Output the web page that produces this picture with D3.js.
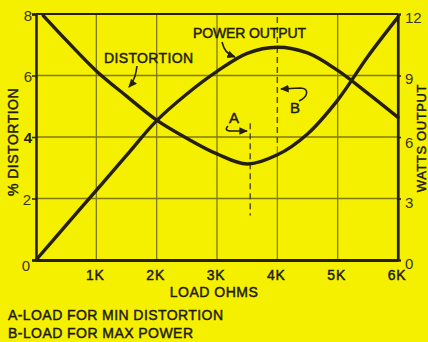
<!DOCTYPE html>
<html>
<head>
<meta charset="utf-8">
<script src="https://cdn.jsdelivr.net/npm/d3@7"></script>
<style>
  html, body { margin: 0; padding: 0; background: #f5f000; }
  svg { display: block; }
  text { font-family: "Liberation Sans", Arial, sans-serif; fill: #1e1a0c; }
  .lab { stroke: #1e1a0c; stroke-width: 0.45px; }
</style>
</head>
<body>
<svg id="chart" width="428" height="342"></svg>
<script>
// Load resistance in kilohms
const distortionLoad = [0.12, 0.5, 1, 1.5, 2, 2.5, 3, 3.5, 4, 4.5, 5, 5.5, 6];
// Percent distortion (left axis)
const distortionPct  = [7.95, 7.15, 6.15, 5.33, 4.55, 3.96, 3.45, 3.12, 3.42, 4.1, 5.2, 6.62, 7.9];
const powerLoad  = [0, 0.5, 1, 1.5, 2, 2.5, 3, 3.5, 4, 4.5, 5, 5.5, 6];
// Watts output (right axis)
const powerWatts = [0, 1.7, 3.4, 5.1, 6.8, 8.1, 9.2, 10.08, 10.38, 10.1, 9.25, 8.13, 6.96];

const xTickValues = [1, 2, 3, 4, 5, 6];
const xTickLabels = ["1K", "2K", "3K", "4K", "5K", "6K"];
const leftTickValues  = [0, 2, 4, 6, 8];
const rightTickValues = [0, 3, 6, 9, 12];

const loadMinDistortion = 3.55;  // A
const loadMaxPower = 4.0;        // B

const svg = d3.select("#chart");
const W = 428, H = 342;
svg.append("rect").attr("width", W).attr("height", H).attr("fill", "#f5f000");

const plot = { left: 36, right: 398, top: 14, bottom: 260 };
const x = d3.scaleLinear().domain([0, 6]).range([plot.left, plot.right]);
const yL = d3.scaleLinear().domain([0, 8]).range([plot.bottom, plot.top]);
const yR = d3.scaleLinear().domain([0, 12]).range([plot.bottom, plot.top]);

const ink = "#261f0e";
const gridInk = "#7f7a16";

// arrowhead marker
const defs = svg.append("defs");
defs.append("marker")
  .attr("id", "head").attr("viewBox", "0 0 10 10")
  .attr("refX", 8).attr("refY", 5)
  .attr("markerWidth", 6).attr("markerHeight", 6)
  .attr("orient", "auto")
  .append("path").attr("d", "M0,1 L9,5 L0,9 Z").attr("fill", ink);

// grid
const grid = svg.append("g");
[1, 2, 3, 5].forEach(v => {
  grid.append("line")
    .attr("x1", x(v)).attr("x2", x(v))
    .attr("y1", yL(0)).attr("y2", yL(8))
    .attr("stroke", gridInk).attr("stroke-width", 1.3);
});
// 4K grid line: solid low part, B marker dashed above
grid.append("line")
  .attr("x1", x(loadMaxPower)).attr("x2", x(loadMaxPower))
  .attr("y1", yL(0)).attr("y2", yL(3.7))
  .attr("stroke", gridInk).attr("stroke-width", 1.2);
[2, 4, 6].forEach(v => {
  grid.append("line")
    .attr("x1", x(0)).attr("x2", x(6))
    .attr("y1", yL(v)).attr("y2", yL(v))
    .attr("stroke", gridInk).attr("stroke-width", 1.3);
});

// marker lines A and B
svg.append("line")
  .attr("x1", x(loadMaxPower)).attr("x2", x(loadMaxPower))
  .attr("y1", yL(7.9)).attr("y2", yL(3.7))
  .attr("stroke", "#4a4410").attr("stroke-width", 1.4)
  .attr("stroke-dasharray", "6,4");
svg.append("line")
  .attr("x1", x(loadMinDistortion)).attr("x2", x(loadMinDistortion))
  .attr("y1", yL(4.45)).attr("y2", yL(1.45))
  .attr("stroke", "#4a4410").attr("stroke-width", 1.4)
  .attr("stroke-dasharray", "6,4");

// frame
svg.append("line").attr("x1", x(0)).attr("x2", x(6)).attr("y1", yL(8)).attr("y2", yL(8))
  .attr("stroke", ink).attr("stroke-width", 2);
svg.append("line").attr("x1", x(6)).attr("x2", x(6)).attr("y1", yL(8)).attr("y2", yL(0))
  .attr("stroke", ink).attr("stroke-width", 2.2);

// axes
const leftAxis = d3.axisLeft(yL).tickValues(leftTickValues).tickSize(4).tickFormat("");
const gl = svg.append("g").attr("transform", `translate(${plot.left},0)`).call(leftAxis);
gl.select(".domain").attr("stroke", ink).attr("stroke-width", 2.5);
gl.selectAll(".tick line").attr("stroke", ink).attr("stroke-width", 1.5);

const rightAxis = d3.axisRight(yR).tickValues(rightTickValues).tickSize(3).tickFormat("");
const gr = svg.append("g").attr("transform", `translate(${plot.right},0)`).call(rightAxis);
gr.select(".domain").attr("stroke", ink).attr("stroke-width", 2.2);
gr.selectAll(".tick line").attr("stroke", ink).attr("stroke-width", 1.5);

const bottomAxis = d3.axisBottom(x).tickValues(xTickValues).tickSize(0).tickFormat("");
const gb = svg.append("g").attr("transform", `translate(0,${plot.bottom})`).call(bottomAxis);
gb.select(".domain").attr("stroke", ink).attr("stroke-width", 3);

// tick labels
const leftOffsets = { 0: [-2, 5], 2: [-1, 1], 4: [0, 0], 6: [0, 1], 8: [0, 1] };
leftTickValues.forEach(v => {
  svg.append("text")
    .attr("x", plot.left - 4 + leftOffsets[v][0])
    .attr("y", yL(v) + leftOffsets[v][1])
    .attr("text-anchor", "end").attr("dominant-baseline", "central")
    .attr("font-size", 15)
    .attr("font-weight", v === 4 ? "bold" : "normal")
    .style("fill", v === 4 ? "#1e1a0c" : "#3a3622")
    .text(v);
});
const rightOffsets = { 0: 3, 3: 4, 6: 5, 9: 3, 12: 3 };
rightTickValues.forEach(v => {
  svg.append("text")
    .attr("x", plot.right + 7)
    .attr("y", yR(v) + rightOffsets[v])
    .attr("dominant-baseline", "central")
    .attr("font-size", 15)
    .style("fill", "#3a3622")
    .text(v);
});
xTickValues.forEach((v, i) => {
  svg.append("text").attr("class", "lab")
    .attr("x", x(v) - 1).attr("y", 280)
    .attr("text-anchor", "middle")
    .attr("font-size", 14)
    .attr("letter-spacing", 0.8)
    .text(xTickLabels[i]);
});

// axis titles
svg.append("text").attr("class", "lab")
  .attr("transform", "translate(18,142) rotate(-90)")
  .attr("text-anchor", "middle").attr("font-size", 14)
  .attr("letter-spacing", 0.5)
  .text("% DISTORTION");
svg.append("text").attr("class", "lab")
  .attr("transform", "translate(426,138) rotate(-90)")
  .attr("text-anchor", "middle").attr("font-size", 13)
  .attr("letter-spacing", 0.6)
  .text("WATTS OUTPUT");
svg.append("text").attr("class", "lab")
  .attr("x", 214).attr("y", 297)
  .attr("text-anchor", "middle").attr("font-size", 14)
  .attr("letter-spacing", 0.5)
  .text("LOAD OHMS");

// notes
svg.append("text").attr("class", "lab").attr("x", 8).attr("y", 320)
  .attr("font-size", 14)
  .attr("textLength", 215).attr("lengthAdjust", "spacing")
  .text("A-LOAD FOR MIN DISTORTION");
svg.append("text").attr("class", "lab").attr("x", 8).attr("y", 338)
  .attr("font-size", 14)
  .attr("textLength", 185).attr("lengthAdjust", "spacing")
  .text("B-LOAD FOR MAX POWER");

// curves
const distLine = d3.line()
  .x((d, i) => x(distortionLoad[i]))
  .y(d => yL(d))
  .curve(d3.curveCatmullRom.alpha(0.5));
const powerLine = d3.line()
  .x((d, i) => x(powerLoad[i]))
  .y(d => yR(d))
  .curve(d3.curveCatmullRom.alpha(0.5));

svg.append("path").datum(distortionPct).attr("d", distLine)
  .attr("fill", "none").attr("stroke", ink).attr("stroke-width", 3.4)
  .attr("stroke-linecap", "round");
svg.append("path").datum(powerWatts).attr("d", powerLine)
  .attr("fill", "none").attr("stroke", ink).attr("stroke-width", 3.4)
  .attr("stroke-linecap", "round");

// curve labels and leaders
svg.append("text").attr("class", "lab").attr("x", 104).attr("y", 63)
  .attr("font-size", 14)
  .attr("textLength", 89).attr("lengthAdjust", "spacing")
  .text("DISTORTION");
svg.append("path")
  .attr("d", "M137,66 C136,73 135,80 129,87")
  .attr("fill", "none").attr("stroke", ink).attr("stroke-width", 1.6)
  .attr("marker-end", "url(#head)");

svg.append("text").attr("class", "lab").attr("x", 193).attr("y", 38)
  .attr("font-size", 14)
  .attr("textLength", 113).attr("lengthAdjust", "spacing")
  .text("POWER OUTPUT");
svg.append("path")
  .attr("d", "M222,42 C224,50 227,54 235,57")
  .attr("fill", "none").attr("stroke", ink).attr("stroke-width", 1.6)
  .attr("marker-end", "url(#head)");

svg.append("text").attr("class", "lab").attr("x", 234).attr("y", 123)
  .attr("text-anchor", "middle").attr("font-size", 15)
  .text("A");
svg.append("path")
  .attr("d", "M228,126 C225,129 226,131 231,131 L247,131")
  .attr("fill", "none").attr("stroke", ink).attr("stroke-width", 1.6)
  .attr("marker-end", "url(#head)");

svg.append("text").attr("class", "lab").attr("x", 295).attr("y", 113)
  .attr("text-anchor", "middle").attr("font-size", 15)
  .text("B");
svg.append("path")
  .attr("d", "M299,101 C308,97 310,88 300,88 L281,89")
  .attr("fill", "none").attr("stroke", ink).attr("stroke-width", 1.6)
  .attr("marker-end", "url(#head)");
</script>
</body>
</html>
